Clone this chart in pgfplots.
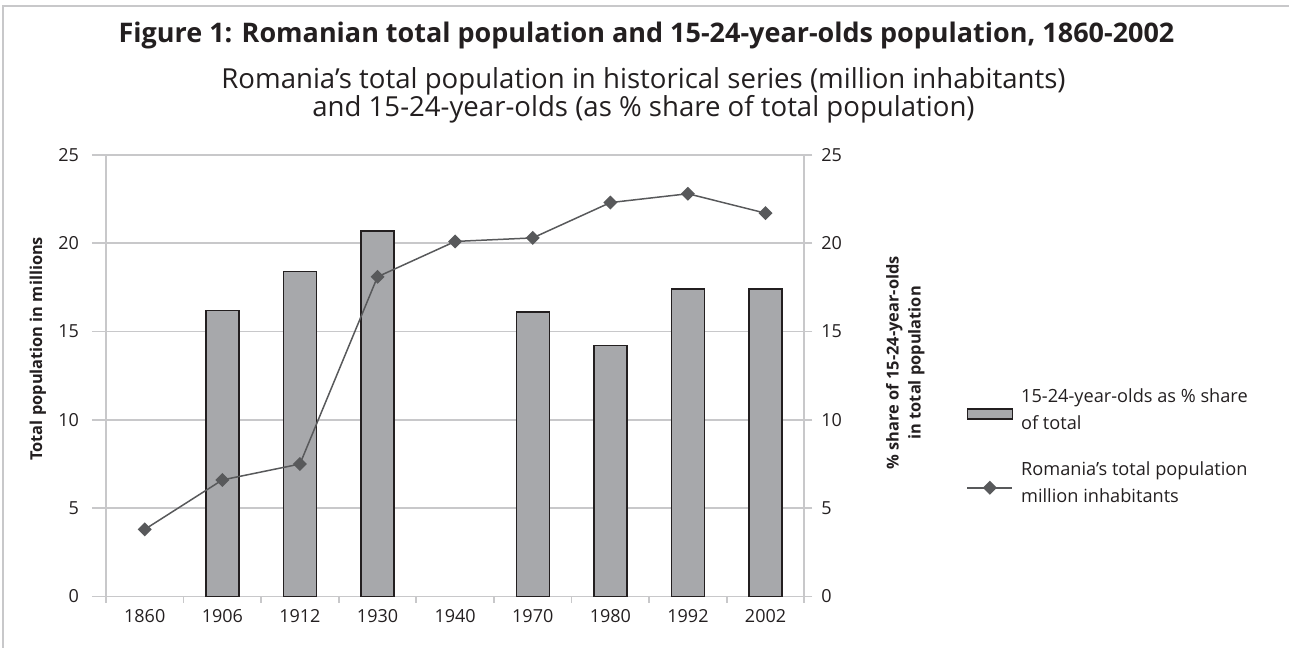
\documentclass[border=0pt]{standalone}
\usepackage{pgfplots}
\pgfplotsset{compat=1.18}
\usepackage{fontspec}
\setmainfont{Open Sans}
\setsansfont{Open Sans}

\definecolor{barfill}{HTML}{A7A8AB}
\definecolor{barline}{HTML}{231F20}
\definecolor{linecol}{HTML}{58595B}
\definecolor{gridcol}{HTML}{C8C8CA}
\definecolor{txt}{HTML}{231F20}

\pgfplotstableread{
x year share pop
0 1860 nan  3.8
1 1906 16.2 6.6
2 1912 18.4 7.5
3 1930 20.7 18.1
4 1940 nan  20.1
5 1970 16.1 20.3
6 1980 14.2 22.3
7 1992 17.4 22.8
8 2002 17.4 21.7
}\popdata

\begin{document}
\begin{tikzpicture}[font=\fontsize{9}{11}\selectfont, text=txt]
% page frame (1 px = 0.5 pt)
\path (-53pt,-25.5pt) rectangle (592pt,298.5pt);
\draw[gridcol, line width=1pt] (-51.5pt,-25.5pt) -- (-51.5pt,295.5pt) -- (592pt,295.5pt);

\pgfplotsset{
  common/.style={
    at={(0,0)}, anchor=south west,
    scale only axis, width=349.5pt, height=221pt,
    xmin=-0.5, xmax=8.5, ymin=0, ymax=25,
    ytick distance=5,
    tick label style={font=\fontsize{9}{11}\selectfont, text=txt},
    /pgf/number format/assume math mode=true,
    axis line style={gridcol, line width=0.9pt},
    tick style={gridcol, line width=0.9pt},
    tick align=outside,
  },
}

% bars on the right axis (% share)
\begin{axis}[common,
  axis y line*=right, axis x line*=bottom,
  xtick={0,...,8}, xticklabels={1860,1906,1912,1930,1940,1970,1980,1992,2002},
  major x tick style={draw=none},
  minor xtick={-0.5,0.5,...,8.5},
  minor tick length=3pt,
  major tick length=4pt,
  ymajorgrids, grid style={gridcol, line width=0.9pt},
  xticklabel style={yshift=1pt},
  yticklabel style={xshift=1pt},
  legend style={at={(427.5pt,108pt)}, anchor=north west, draw=none, fill=none,
    row sep=10.5pt, column sep=2pt, font=\fontsize{9.1}{13.5}\selectfont,
    cells={anchor=west, align=left}},
  legend cell align=left,
]
\addplot[ybar, bar width=16.5pt, fill=barfill, draw=barline, line width=0.7pt,
  area legend,
  legend image code/.code={\draw[fill=barfill, draw=barline, line width=0.6pt]
    (0pt,-4pt) rectangle (22.5pt,1pt);}]
  table[x=x, y=share] {\popdata};
\addlegendentry{15-24-year-olds as \% share\\of total}
\addlegendimage{linecol, line width=0.75pt,
  legend image code/.code={\draw[linecol, line width=0.75pt] (0pt,-2pt) -- (22.5pt,-2pt);
    \fill[linecol] (11.25pt,-2pt) ++(-3pt,0pt) -- ++(3pt,3pt) -- ++(3pt,-3pt) -- ++(-3pt,-3pt) -- cycle;}}
\addlegendentry{Romania’s total population\\million inhabitants}
\end{axis}

% line on the left axis (million inhabitants)
\begin{axis}[common,
  axis y line*=left, axis x line=none,
  major tick length=7pt,
  yticklabel style={xshift=-3pt},
]
\addplot[linecol, line width=0.75pt, mark=square*, mark size=2.1pt,
  mark options={rotate=45, fill=linecol, draw=linecol}]
  table[x=x, y=pop] {\popdata};
\end{axis}

% titles and axis labels
\node[font=\bfseries\fontsize{13.5}{16}\selectfont] at (270.5pt,280.5pt)
  {Figure 1: Romanian total population and 15-24-year-olds population, 1860-2002};
\node[font=\fontsize{13.8}{14}\selectfont, align=center] at (269pt,251pt)
  {Romania’s total population in historical series (million inhabitants)\\
   and 15-24-year-olds (as \% share of total population)};
\node[rotate=90, font=\bfseries\fontsize{8.2}{11}\selectfont] at (-34pt,124pt)
  {Total population in millions};
\node[rotate=90, font=\bfseries\fontsize{8.2}{11}\selectfont, align=center] at (400pt,117pt)
  {\% share of 15-24-year-olds\\in total population};
\end{tikzpicture}
\end{document}
